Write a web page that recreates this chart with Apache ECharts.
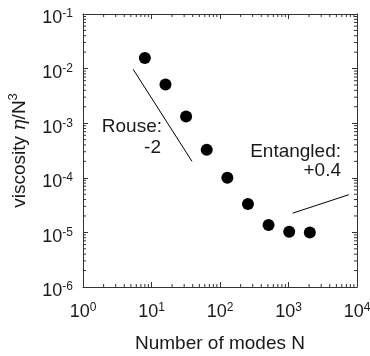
<!DOCTYPE html>
<html>
<head>
<meta charset="utf-8">
<script src="https://cdn.jsdelivr.net/npm/echarts@6/dist/echarts.min.js"></script>
<style>html,body{margin:0;padding:0;background:#fff;}#c{width:370px;height:356px;}</style>
</head>
<body>
<div id="c"></div>
<script>
// Data
var modesN = [8, 16, 32, 64, 128, 256, 512, 1024, 2048];
var viscosity = [0.0156, 0.0051, 0.00132, 0.000327, 0.0001, 3.3e-5, 1.37e-5, 1.03e-5, 1.0e-5];
var rouseLineN = [5.4, 39];
var rouseLineV = [9.7e-3, 2.0e-4];
var entLineN = [1150, 7600];
var entLineV = [2.25e-5, 4.9e-5];
var xTickExponents = [0, 1, 2, 3, 4];
var yTickExponents = [-6, -5, -4, -3, -2, -1];
var minorMultipliers = [2, 3, 4, 5, 6, 7, 8, 9];

var FONT = 'Liberation Sans, Arial, Helvetica, sans-serif';
var TXT = '#1a1a1a';
var AX = '#333';

function pairs(a, b) { return a.map(function (v, i) { return [v, b[i]]; }); }
function expLabel(v) {
  var e = Math.round(Math.log10(v));
  return '{b|10}{s|' + e + '}';
}
function minorValues(exps) {
  var out = [];
  for (var i = 0; i < exps.length - 1; i++) {
    minorMultipliers.forEach(function (m) { out.push(m * Math.pow(10, exps[i])); });
  }
  return out;
}
var tickRich = {
  b: { fontSize: 18, fontFamily: FONT, color: TXT, lineHeight: 18, padding: [9, 0, 0, 0] },
  s: { fontSize: 12, fontFamily: FONT, color: TXT, lineHeight: 12, padding: [3, 0, 0, 0], verticalAlign: 'top' }
};

var chart = echarts.init(document.getElementById('c'), null, { renderer: 'canvas' });
var common = {
  type: 'log', logBase: 10, splitLine: { show: false },
  axisLine: { show: true, onZero: false, lineStyle: { color: AX, width: 1 } },
  axisTick: { show: true, inside: true, length: 5, lineStyle: { color: AX } },
  minorTick: { show: false }
};
var xMin = Math.pow(10, xTickExponents[0]), xMax = Math.pow(10, xTickExponents[xTickExponents.length - 1]);
var yMin = Math.pow(10, yTickExponents[0]), yMax = Math.pow(10, yTickExponents[yTickExponents.length - 1]);
var MINOR = 3;

function tickLine(x1, y1, x2, y2) {
  return { type: 'line', shape: { x1: x1, y1: y1, x2: x2, y2: y2 }, style: { stroke: AX, lineWidth: 1 } };
}

chart.setOption({
  animation: false,
  backgroundColor: '#fff',
  grid: { left: 83, right: 13, top: 14, bottom: 69, containLabel: false, outerBoundsMode: 'none' },
  xAxis: [
    Object.assign({}, common, {
      position: 'bottom', min: xMin, max: xMax,
      axisLabel: { formatter: expLabel, rich: tickRich, margin: 12 },
      name: 'Number of modes N', nameLocation: 'middle', nameGap: 47,
      nameTextStyle: { fontSize: 19, fontFamily: FONT, color: TXT }
    }),
    Object.assign({}, common, { position: 'top', min: xMin, max: xMax, axisLabel: { show: false } })
  ],
  yAxis: [
    Object.assign({}, common, {
      position: 'left', min: yMin, max: yMax,
      axisLabel: { formatter: expLabel, rich: tickRich, margin: 10 },
      name: '{n|viscosity }{i|η}{n|/N}{s|3}', nameLocation: 'middle', nameGap: 56,
      nameTextStyle: {
        rich: {
          n: { fontSize: 19, fontFamily: FONT, color: TXT, lineHeight: 20, padding: [6, 0, 0, 0] },
          i: { fontSize: 19, fontFamily: 'DejaVu Serif, Liberation Serif, serif', fontStyle: 'italic', color: TXT, lineHeight: 20, padding: [6, 0, 0, 0] },
          s: { fontSize: 13, fontFamily: FONT, color: TXT, lineHeight: 13, verticalAlign: 'top' }
        }
      }
    }),
    Object.assign({}, common, { position: 'right', min: yMin, max: yMax, axisLabel: { show: false } })
  ],
  series: [
    { type: 'custom', xAxisIndex: 0, yAxisIndex: 0, silent: true, clip: false,
      data: minorValues(xTickExponents).map(function (v) { return [v, yMin]; }),
      renderItem: function (params, api) {
        var b = api.coord([api.value(0), yMin]);
        var t = api.coord([api.value(0), yMax]);
        return { type: 'group', children: [tickLine(b[0], b[1], b[0], b[1] - MINOR), tickLine(t[0], t[1], t[0], t[1] + MINOR)] };
      } },
    { type: 'custom', xAxisIndex: 0, yAxisIndex: 0, silent: true, clip: false,
      data: minorValues(yTickExponents).map(function (v) { return [xMin, v]; }),
      renderItem: function (params, api) {
        var l = api.coord([xMin, api.value(1)]);
        var r = api.coord([xMax, api.value(1)]);
        return { type: 'group', children: [tickLine(l[0], l[1], l[0] + MINOR, l[1]), tickLine(r[0], r[1], r[0] - MINOR, r[1])] };
      } },
    { type: 'scatter', xAxisIndex: 0, yAxisIndex: 0, data: pairs(modesN, viscosity),
      symbolSize: 12, itemStyle: { color: '#000', opacity: 1 } },
    { type: 'line', xAxisIndex: 0, yAxisIndex: 0, data: pairs(rouseLineN, rouseLineV),
      symbol: 'none', lineStyle: { color: '#000', width: 1 } },
    { type: 'line', xAxisIndex: 0, yAxisIndex: 0, data: pairs(entLineN, entLineV),
      symbol: 'none', lineStyle: { color: '#000', width: 1 } }
  ],
  graphic: [
    { type: 'text', x: 162, y: 117, style: { text: 'Rouse:', textAlign: 'right', font: '19px ' + FONT, fill: TXT } },
    { type: 'text', x: 161, y: 138, style: { text: '-2', textAlign: 'right', font: '19px ' + FONT, fill: TXT } },
    { type: 'text', x: 341, y: 142, style: { text: 'Entangled:', textAlign: 'right', font: '19px ' + FONT, fill: TXT } },
    { type: 'text', x: 341, y: 161, style: { text: '+0.4', textAlign: 'right', font: '19px ' + FONT, fill: TXT } }
  ]
});
</script>
</body>
</html>
